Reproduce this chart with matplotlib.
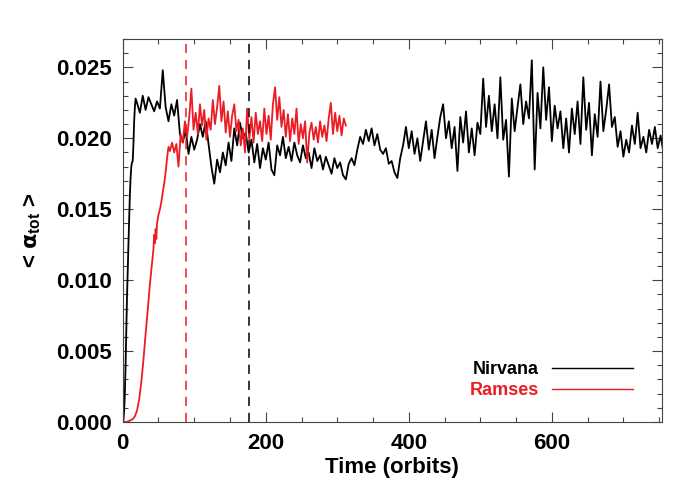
import numpy as np
import matplotlib
matplotlib.use("Agg")
import matplotlib.pyplot as plt
from matplotlib.lines import Line2D
from matplotlib.ticker import MultipleLocator, FormatStrFormatter

plt.rcParams['font.family'] = ['Liberation Sans', 'DejaVu Sans']
plt.rcParams['font.weight'] = 'bold'
plt.rcParams['mathtext.fontset'] = 'custom'
plt.rcParams['mathtext.rm'] = 'Liberation Sans:bold'
plt.rcParams['mathtext.bf'] = 'Liberation Sans:bold'
plt.rcParams['mathtext.it'] = 'DejaVu Sans'

# ---- Nirvana (black): initial growth, then sampled every 4 orbits from t=20
nirvana_rise_t = [0, 1, 2, 3, 4, 5, 6, 7, 8, 9, 10, 11, 12, 13, 14, 15, 16, 17, 18]
nirvana_rise_v = [0.0, 0.0001, 0.0008, 0.0020, 0.0040, 0.0065, 0.0088, 0.0108, 0.0125,
                  0.0142, 0.0160, 0.0172, 0.0180, 0.0183, 0.0184, 0.0196, 0.0212,
                  0.0222, 0.0228]
nirvana_t0 = 20
nirvana_dt = 4
nirvana_v = [
    # 20 - 76
    0.0225, 0.0218, 0.0230, 0.0220, 0.0229, 0.0224, 0.0219, 0.0226, 0.0221, 0.0248,
    0.0222, 0.0212, 0.0224, 0.0216, 0.0227,
    # 80 - 176
    0.0203, 0.0197, 0.0206, 0.0189, 0.0201, 0.0192, 0.0199, 0.0210, 0.0201, 0.0212,
    0.0196, 0.0180, 0.0168, 0.0185, 0.0176, 0.0190, 0.0181, 0.0197, 0.0184, 0.0207,
    0.0195, 0.0211, 0.0200, 0.0204, 0.0190,
    # 180 - 276
    0.0199, 0.0183, 0.0196, 0.0179, 0.0193, 0.0185, 0.0197, 0.0178, 0.0174, 0.0195,
    0.0188, 0.0201, 0.0186, 0.0194, 0.0184, 0.0197, 0.0188, 0.0183, 0.0195, 0.0186,
    0.0190, 0.0179, 0.0193, 0.0184, 0.0188,
    # 280 - 376
    0.0178, 0.0187, 0.0181, 0.0175, 0.0186, 0.0179, 0.0183, 0.0174, 0.0171, 0.0182,
    0.0186, 0.0181, 0.0192, 0.0201, 0.0196, 0.0206, 0.0198, 0.0207, 0.0195, 0.0203,
    0.0192, 0.0189, 0.0193, 0.0182, 0.0184,
    # 380 - 476
    0.0176, 0.0172, 0.0186, 0.0195, 0.0208, 0.0193, 0.0205, 0.0189, 0.0200, 0.0184,
    0.0198, 0.0212, 0.0192, 0.0206, 0.0186, 0.0201, 0.0215, 0.0224, 0.0200, 0.0212,
    0.0193, 0.0208, 0.0177, 0.0215, 0.0197,
    # 480 - 576
    0.0219, 0.0190, 0.0207, 0.0188, 0.0211, 0.0203, 0.0242, 0.0208, 0.0230, 0.0205,
    0.0224, 0.0200, 0.0243, 0.0199, 0.0213, 0.0173, 0.0228, 0.0205, 0.0222, 0.0238,
    0.0210, 0.0226, 0.0214, 0.0255, 0.0178,
    # 580 - 676
    0.0232, 0.0207, 0.0250, 0.0213, 0.0236, 0.0198, 0.0223, 0.0207, 0.0219, 0.0193,
    0.0214, 0.0190, 0.0221, 0.0203, 0.0226, 0.0196, 0.0243, 0.0206, 0.0225, 0.0188,
    0.0217, 0.0201, 0.0240, 0.0205, 0.0220,
    # 680 - 756
    0.0238, 0.0208, 0.0215, 0.0194, 0.0205, 0.0187, 0.0199, 0.0190, 0.0209, 0.0196,
    0.0218, 0.0193, 0.0201, 0.0190, 0.0206, 0.0196, 0.0208, 0.0193, 0.0202, 0.0190,
]

# ---- Ramses (red): initial growth, then sampled every 3 orbits from t=66
ramses_rise_t = [0, 5, 10, 14, 17, 20, 23, 26, 29, 32, 35, 38, 41, 43, 44, 45, 46, 47,
                 48, 50, 52, 54, 56, 58, 60, 62, 64]
ramses_rise_v = [0.0, 0.0, 0.0001, 0.0002, 0.0004, 0.0008, 0.0016, 0.0028, 0.0044,
                 0.0062, 0.0079, 0.0097, 0.0112, 0.0122, 0.0132, 0.0126, 0.0136,
                 0.0129, 0.0140, 0.0146, 0.0150, 0.0155, 0.0162, 0.0168, 0.0176,
                 0.0186, 0.0194]
ramses_t0 = 66
ramses_dt = 3
ramses_v = [
    0.0191, 0.0197, 0.0190, 0.0196, 0.0180, 0.0203, 0.0197, 0.0212, 0.0201, 0.0215,
    0.0235, 0.0206, 0.0218, 0.0203, 0.0224, 0.0209, 0.0220, 0.0199, 0.0214, 0.0206,
    0.0227, 0.0210, 0.0222, 0.0237, 0.0212, 0.0226, 0.0204, 0.0219, 0.0201, 0.0216,
    0.0224, 0.0205, 0.0213, 0.0195, 0.0207, 0.0190, 0.0221, 0.0199, 0.0215, 0.0197,
    0.0218, 0.0203, 0.0212, 0.0198, 0.0221, 0.0203, 0.0216, 0.0199, 0.0224, 0.0236,
    0.0213, 0.0229, 0.0208, 0.0220, 0.0201, 0.0217, 0.0198, 0.0214, 0.0203, 0.0221,
    0.0196, 0.0210, 0.0200, 0.0212, 0.0183, 0.0204, 0.0211, 0.0199, 0.0208, 0.0197,
    0.0212, 0.0201, 0.0209, 0.0198, 0.0214, 0.0225, 0.0203, 0.0218, 0.0205, 0.0216,
    0.0202, 0.0214, 0.0209,
]

# vertical reference times
t_ramses_mark = 88
t_nirvana_mark = 176

series_labels = ['Nirvana', 'Ramses']
RED = '#ec1c24'

nir_t = np.concatenate([nirvana_rise_t, nirvana_t0 + nirvana_dt * np.arange(len(nirvana_v))])
nir_y = np.concatenate([nirvana_rise_v, nirvana_v])
ram_t = np.concatenate([ramses_rise_t, ramses_t0 + ramses_dt * np.arange(len(ramses_v))])
ram_y = np.concatenate([ramses_rise_v, ramses_v])

fig = plt.figure(figsize=(7, 5), dpi=100)
ax = fig.add_axes([0.1753, 0.156, 0.7704, 0.766])

ax.plot(nir_t, nir_y, color='black', lw=1.3)
ax.plot(ram_t, ram_y, color=RED, lw=1.3)
ax.axvline(t_ramses_mark, color=RED, lw=1.1, ls=(0, (6, 4.5)))
ax.axvline(t_nirvana_mark, color='black', lw=1.1, ls=(0, (6, 4.5)))

ax.set_xlim(0, 754)
ax.set_ylim(0, 0.027)
ax.xaxis.set_major_locator(MultipleLocator(200))
ax.xaxis.set_minor_locator(MultipleLocator(50))
ax.yaxis.set_major_locator(MultipleLocator(0.005))
ax.yaxis.set_minor_locator(MultipleLocator(0.001))
ax.yaxis.set_major_formatter(FormatStrFormatter('%.3f'))
ax.tick_params(which='both', direction='in', top=True, right=True, width=0.8,
               color='#444444', labelsize=16)
ax.tick_params(which='major', length=7.5, pad=8)
ax.tick_params(which='minor', length=3.6)
for s in ax.spines.values():
    s.set_linewidth(0.8)
    s.set_color('#444444')

ax.set_xlabel('Time (orbits)', fontsize=16, fontweight='bold', labelpad=2)
ax.set_ylabel(r'< $\alpha_{\mathbf{tot}}$ >', fontsize=16, fontweight='bold', labelpad=9)

handles = [Line2D([], [], color='black', lw=1.0), Line2D([], [], color=RED, lw=1.0)]
ax.legend(handles, series_labels, loc='lower right', bbox_to_anchor=(0.946, 0.06),
          markerfirst=False, frameon=False, handlelength=4.5, handletextpad=0.7,
          labelspacing=0.2, borderpad=0, borderaxespad=0,
          prop={'size': 13, 'weight': 'bold'}, labelcolor=['black', RED])

fig.savefig('out.png', dpi=100)
